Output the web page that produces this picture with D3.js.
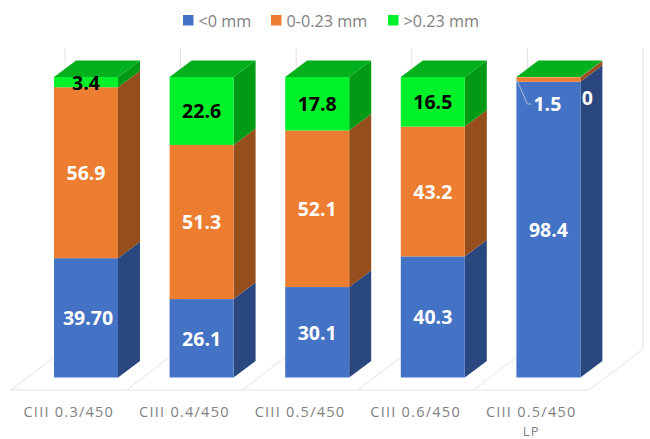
<!DOCTYPE html>
<html>
<head>
<meta charset="utf-8">
<script src="https://cdn.jsdelivr.net/npm/d3@7"></script>
<style>
  html, body { margin: 0; padding: 0; background: #fff; }
  svg { display: block; }
</style>
</head>
<body>
<script>
    // Share of results per tool configuration
    const categories = ["CIII 0.3/450", "CIII 0.4/450", "CIII 0.5/450", "CIII 0.6/450", "CIII 0.5/450 LP"];
    const seriesNames = ["<0 mm", "0-0.23 mm", ">0.23 mm"];
    const below = [39.7, 26.1, 30.1, 40.3, 98.4];
    const middle = [56.9, 51.3, 52.1, 43.2, 1.5];
    const above = [3.4, 22.6, 17.8, 16.5, 0];
    const labels = [
      ["39.70", "26.1", "30.1", "40.3", "98.4"],
      ["56.9", "51.3", "52.1", "43.2", "1.5"],
      ["3.4", "22.6", "17.8", "16.5", "0"],
    ];

    const front = ["#4472c4", "#ed7d31", "#00f02a"];
    const side = ["#2a4780", "#964f1c", "#009a14"];
    const topFace = "#00b01c";
    const labelColor = ["#fff", "#fff", "#000"];

    const width = 650;
    const height = 439;
    const depthX = 22;
    const depthY = 16.5;
    const floorX = 54;
    const floorY = 41;

    const svg = d3.select("body")
      .append("svg")
      .attr("width", width)
      .attr("height", height);

    // x runs along the front edge of the floor, y is the front face of the bars
    const x = d3.scaleBand()
      .domain(categories)
      .range([11, 589])
      .paddingInner(0)
      .paddingOuter(0);
    const barWidth = 64;
    const barLeft = d => x(d) + 43;
    const y = d3.scaleLinear().domain([0, 100]).range([377.5, 77]);

    const rows = categories.map((c, i) => ({
      category: c,
      [seriesNames[0]]: below[i],
      [seriesNames[1]]: middle[i],
      [seriesNames[2]]: above[i],
    }));
    const stacked = d3.stack().keys(seriesNames)(rows);

    // Floor and back wall
    const grid = svg.append("g")
      .attr("fill", "none")
      .attr("stroke", "#e2e2e2")
      .attr("stroke-width", 1);
    const floorFront = 390;
    const wallTop = 48;
    grid.append("line")
      .attr("x1", x.range()[0]).attr("x2", x.range()[1])
      .attr("y1", floorFront).attr("y2", floorFront);
    const edges = categories.map(c => x(c)).concat(x.range()[1]);
    grid.selectAll(".edge")
      .data(edges)
      .enter()
      .append("path")
      .attr("class", "edge")
      .attr("d", d => `M${d},${floorFront}L${d + floorX},${floorFront - floorY}V${wallTop}`);

    // Segments, bottom to top
    const poly = pts => pts.map(p => p.join(",")).join(" ");
    const bars = svg.append("g");
    stacked.forEach((layer, s) => {
      const g = bars.append("g");
      layer.forEach(d => {
        const left = barLeft(d.data.category);
        const right = left + barWidth;
        const y0 = y(d[0]);
        const y1 = y(d[1]);
        g.append("polygon")
          .attr("points", poly([[right, y0], [right + depthX, y0 - depthY], [right + depthX, y1 - depthY], [right, y1]]))
          .attr("fill", side[s]);
        g.append("rect")
          .attr("x", left)
          .attr("y", y1)
          .attr("width", barWidth)
          .attr("height", y0 - y1)
          .attr("fill", front[s]);
      });
    });

    // Top faces all sit at the full stack height
    bars.append("g")
      .selectAll("polygon")
      .data(categories)
      .enter()
      .append("polygon")
      .attr("points", d => {
        const left = barLeft(d);
        const t = y(100);
        return poly([[left, t], [left + barWidth, t], [left + barWidth + depthX, t - depthY], [left + depthX, t - depthY]]);
      })
      .attr("fill", topFace);

    // Leader for the thin 1.5 segment
    const lastLeft = barLeft(categories[4]);
    svg.append("path")
      .attr("d", `M${lastLeft + 0.5},${y(99)}L${lastLeft + 11},${y(91)}H${lastLeft + 15}`)
      .attr("fill", "none")
      .attr("stroke", "#b4bdd0")
      .attr("stroke-width", 1);

    // Value labels
    const valueText = svg.append("g")
      .attr("font-family", "'Open Sans', sans-serif")
      .attr("font-weight", 700)
      .attr("font-size", 19.5)
      .attr("text-anchor", "middle");
    stacked.forEach((layer, s) => {
      layer.forEach((d, i) => {
        let cx = barLeft(d.data.category) + barWidth / 2;
        let cy = y((d[0] + d[1]) / 2);
        if (i === 0 && s === 0) cx += 2;
        if (i === 4 && s === 1) { cx = lastLeft + 31; cy = y(91); }
        if (i === 4 && s === 2) { cx = lastLeft + barWidth + 7; cy = y(93.2); }
        valueText.append("text")
          .attr("x", cx)
          .attr("y", cy)
          .attr("dy", "0.38em")
          .attr("fill", i === 4 && s === 2 ? "#fff" : labelColor[s])
          .text(labels[s][i]);
      });
    });

    // Category axis, last label wraps onto a second line
    const axis = svg.append("g")
      .attr("transform", `translate(0,${floorFront})`)
      .call(d3.axisBottom(x).tickSize(0).tickPadding(17));
    axis.select(".domain").remove();
    axis.selectAll("text")
      .attr("font-family", "'Open Sans', sans-serif")
      .attr("font-size", 14.5)
      .attr("letter-spacing", 1.25)
      .attr("fill", "#7f7f7f")
      .each(function (d) {
        const t = d3.select(this);
        if (d.endsWith(" LP")) {
          t.text(null);
          t.append("tspan").attr("x", 0).attr("dy", "0.71em").text(d.slice(0, -3));
          t.append("tspan").attr("x", 0).attr("dy", 18.4).attr("font-size", 13).text("LP");
        }
      });

    // Legend
    const legendX = [183, 271, 388];
    const legend = svg.append("g")
      .selectAll("g")
      .data(seriesNames)
      .enter()
      .append("g")
      .attr("transform", (d, i) => `translate(${legendX[i]},15)`);
    legend.append("rect")
      .attr("width", 10.5)
      .attr("height", 10.5)
      .attr("fill", (d, i) => front[i]);
    legend.append("text")
      .attr("x", 15.5)
      .attr("y", 11.5)
      .attr("font-family", "'Open Sans', sans-serif")
      .attr("font-size", 16.2)
      .attr("fill", "#7f7f7f")
      .text(d => d);
</script>
</body>
</html>
